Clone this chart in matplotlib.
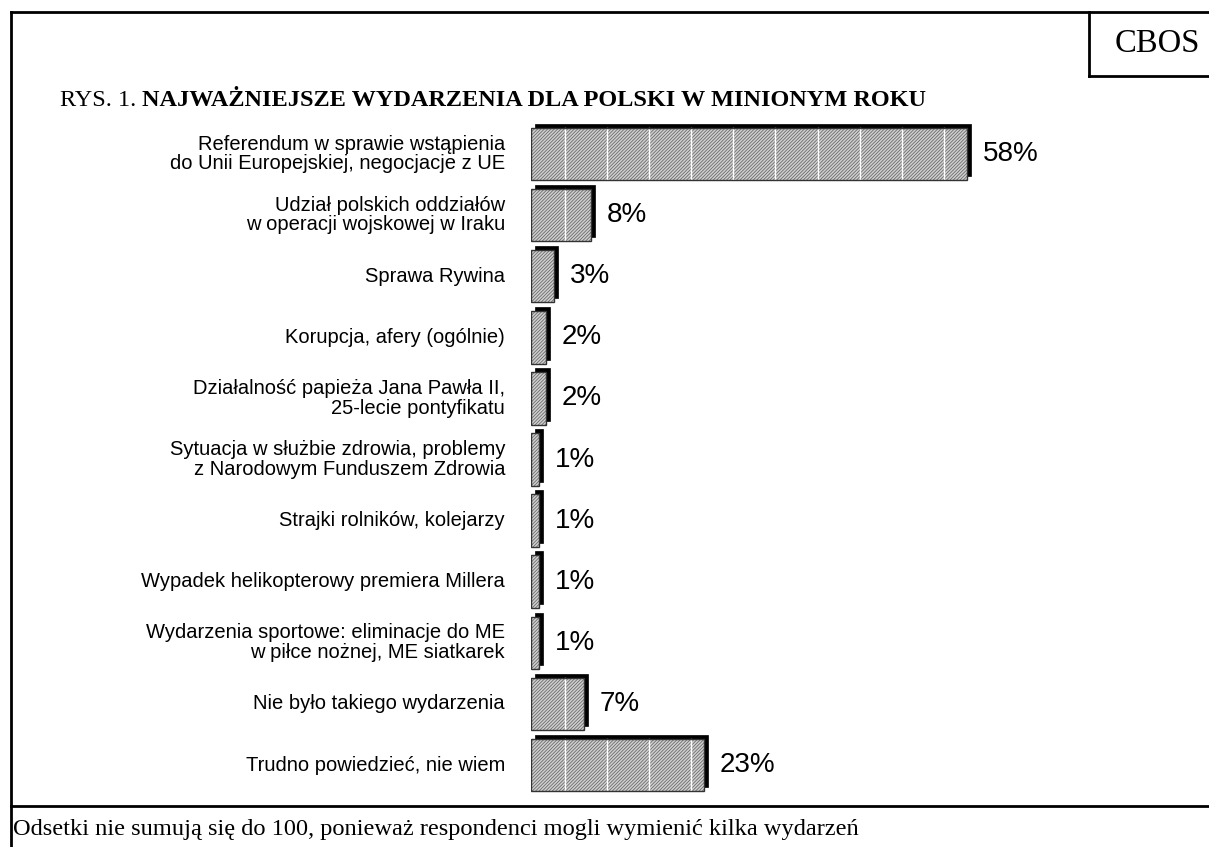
import matplotlib
matplotlib.use("Agg")
import matplotlib.pyplot as plt
from matplotlib.patches import Rectangle
from matplotlib.lines import Line2D
import matplotlib.transforms as mtransforms

categories = [
    "Referendum w sprawie wstąpienia\ndo Unii Europejskiej, negocjacje z UE",
    "Udział polskich oddziałów\nw operacji wojskowej w Iraku",
    "Sprawa Rywina",
    "Korupcja, afery (ogólnie)",
    "Działalność papieża Jana Pawła II,\n25-lecie pontyfikatu",
    "Sytuacja w służbie zdrowia, problemy\nz Narodowym Funduszem Zdrowia",
    "Strajki rolników, kolejarzy",
    "Wypadek helikopterowy premiera Millera",
    "Wydarzenia sportowe: eliminacje do ME\nw piłce nożnej, ME siatkarek",
    "Nie było takiego wydarzenia",
    "Trudno powiedzieć, nie wiem",
]
values = [58, 8, 3, 2, 2, 1, 1, 1, 1, 7, 23]
value_labels = ["58%", "8%", "3%", "2%", "2%", "1%", "1%", "1%", "1%", "7%", "23%"]

title_prefix = "RYS. 1. "
title_main = "NAJWAŻNIEJSZE WYDARZENIA DLA POLSKI W MINIONYM ROKU"
footnote = "Odsetki nie sumują się do 100, ponieważ respondenci mogli wymienić kilka wydarzeń"
source = "CBOS"

W, H = 1209, 847
DPI = 100
fig = plt.figure(figsize=(W / DPI, H / DPI), dpi=DPI)
fig.patch.set_facecolor("white")

def fx(px):
    return px / W

def fy(py):
    return 1 - py / H

# frame lines (figure coordinates)
lw_frame = 2.0
fig.add_artist(Line2D([fx(11), fx(11)], [fy(12), fy(847)], color="black", lw=lw_frame))
fig.add_artist(Line2D([fx(11), fx(1209)], [fy(12), fy(12)], color="black", lw=lw_frame))
fig.add_artist(Line2D([fx(11), fx(1209)], [fy(806), fy(806)], color="black", lw=lw_frame))
fig.add_artist(Line2D([fx(1089), fx(1089)], [fy(12), fy(76)], color="black", lw=lw_frame))
fig.add_artist(Line2D([fx(1089), fx(1209)], [fy(76), fy(76)], color="black", lw=lw_frame))

serif = ["Liberation Serif", "DejaVu Serif"]
sans = ["Liberation Sans", "DejaVu Sans"]

fig.text(fx(1157), fy(44), source, ha="center", va="center", fontsize=23.5, family=serif)

t1 = fig.text(fx(60), fy(100), title_prefix, ha="left", va="center", fontsize=17.5, family=serif)

fig.text(fx(13), fy(829), footnote, ha="left", va="center", fontsize=17.6, family=serif)

# bar axes
px_per_unit = 7.52
x0_px = 531
xmax = 80
row0 = 154
row_step = 61.1
n = len(values)
ax_top = row0 - row_step / 2
ax_bot = row0 + row_step * (n - 0.5)
ax = fig.add_axes([fx(x0_px), fy(ax_bot), (xmax * px_per_unit) / W, (ax_bot - ax_top) / H])
ax.set_xlim(0, xmax)
ax.set_ylim(n - 0.5, -0.5)
ax.axis("off")

ax.annotate(title_main, xy=(1, 0.5), xycoords=t1, ha="left", va="center",
            fontsize=17.5, family=serif, fontweight="bold", annotation_clip=False)

bar_h = 0.86
shadow = mtransforms.offset_copy(ax.transData, fig=fig, x=4, y=4, units="dots")
plt.rcParams["hatch.linewidth"] = 0.6
grid_pos = [4.5 + 5.6 * k for k in range(20)]

for i, (v, lab) in enumerate(zip(values, value_labels)):
    y = i - bar_h / 2
    ax.add_patch(Rectangle((0, y), v, bar_h, transform=shadow, facecolor="black",
                           edgecolor="black", lw=0.5, zorder=1))
    ax.add_patch(Rectangle((0, y), v, bar_h, facecolor="#d0d0d0", edgecolor="#6a6a6a",
                           hatch="//////////", lw=0, zorder=2))
    for g in grid_pos:
        if g < v - 0.3:
            ax.plot([g, g], [y, y + bar_h], color="white", lw=1.0, zorder=3)
    ax.add_patch(Rectangle((0, y), v, bar_h, facecolor="none", edgecolor="#333333",
                           lw=1.0, zorder=4))
    ax.annotate(lab, xy=(v, i), xytext=(11.5, 0), textcoords="offset points",
                ha="left", va="center", fontsize=20, family=sans)
    ax.annotate(categories[i], xy=(0, i), xytext=(-26 * 0.72, 0), textcoords="offset points",
                ha="right", va="center", fontsize=14.5, family=sans, multialignment="right",
                linespacing=1.05, annotation_clip=False)

fig.savefig("out.png", dpi=DPI)
